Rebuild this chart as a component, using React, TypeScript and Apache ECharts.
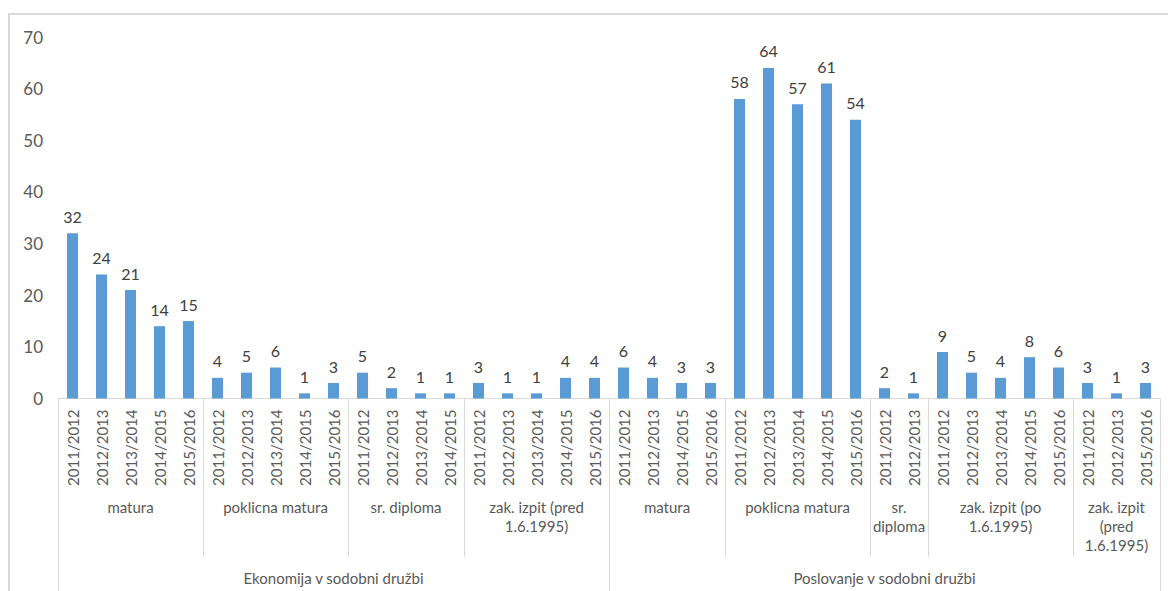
import React, { useEffect, useRef } from "react";
import * as echarts from "echarts";

const programNames = ["Ekonomija v sodobni družbi", "Poslovanje v sodobni družbi"];
const groupNames = [
  "matura",
  "poklicna matura",
  "sr. diploma",
  "zak. izpit (pred\n1.6.1995)",
  "matura",
  "poklicna matura",
  "sr.\ndiploma",
  "zak. izpit (po\n1.6.1995)",
  "zak. izpit\n(pred\n1.6.1995)",
];
const groupProgram = [0, 0, 0, 0, 1, 1, 1, 1, 1];
const groupYears = [
  ["2011/2012", "2012/2013", "2013/2014", "2014/2015", "2015/2016"],
  ["2011/2012", "2012/2013", "2013/2014", "2014/2015", "2015/2016"],
  ["2011/2012", "2012/2013", "2013/2014", "2014/2015"],
  ["2011/2012", "2012/2013", "2013/2014", "2014/2015", "2015/2016"],
  ["2011/2012", "2012/2013", "2014/2015", "2015/2016"],
  ["2011/2012", "2012/2013", "2013/2014", "2014/2015", "2015/2016"],
  ["2011/2012", "2012/2013"],
  ["2011/2012", "2012/2013", "2013/2014", "2014/2015", "2015/2016"],
  ["2011/2012", "2012/2013", "2015/2016"],
];
const groupValues = [
  [32, 24, 21, 14, 15],
  [4, 5, 6, 1, 3],
  [5, 2, 1, 1],
  [3, 1, 1, 4, 4],
  [6, 4, 3, 3],
  [58, 64, 57, 61, 54],
  [2, 1],
  [9, 5, 4, 8, 6],
  [3, 1, 3],
];
const yMin = 0;
const yMax = 70;
const yInterval = 10;

const FONT = "Lato";
const AXIS_COLOR = "#595959";
const LINE_COLOR = "#D9D9D9";

export default function App() {
  const ref = useRef<HTMLDivElement>(null);

  useEffect(() => {
    if (!ref.current) return;
    const chart = echarts.init(ref.current, undefined, { renderer: "svg" });

    const categories: string[] = [];
    const values: number[] = [];
    const groupStart: number[] = [];
    groupYears.forEach((years, g) => {
      groupStart.push(categories.length);
      years.forEach((y, k) => {
        categories.push(g + "|" + y);
        values.push(groupValues[g][k]);
      });
    });
    const n = categories.length;

    chart.setOption({
      animation: false,
      grid: { left: 58, right: 8, top: 37, bottom: 192.5, containLabel: false },
      xAxis: {
        type: "category",
        data: categories,
        axisLine: { show: true, lineStyle: { color: LINE_COLOR, width: 1 } },
        axisTick: { show: false },
        axisLabel: {
          interval: 0,
          rotate: 90,
          margin: 11,
          color: AXIS_COLOR,
          fontFamily: FONT,
          fontSize: 15,
          formatter: (v: string) => v.split("|")[1],
        },
        splitLine: { show: false },
      },
      yAxis: {
        type: "value",
        min: yMin,
        max: yMax,
        interval: yInterval,
        axisLine: { show: false },
        axisTick: { show: false },
        splitLine: { show: false },
        axisLabel: { color: AXIS_COLOR, fontFamily: FONT, fontSize: 17, margin: 15 },
      },
      series: [
        {
          type: "bar",
          data: values,
          barWidth: 11,
          itemStyle: { color: "#5B9BD5" },
          label: {
            show: true,
            position: "top",
            distance: 9,
            color: "#404040",
            fontFamily: FONT,
            fontSize: 16,
          },
        },
      ],
    });

    const cx = (i: number) => chart.convertToPixel({ xAxisIndex: 0 }, i) as number;
    const bw = (cx(n - 1) - cx(0)) / (n - 1);
    const boundary = (i: number) => cx(0) + (i - 0.5) * bw;
    const zeroY = chart.convertToPixel({ yAxisIndex: 0 }, 0) as number;

    const elements: any[] = [
      {
        type: "rect",
        shape: { x: 9, y: 14, width: 1400, height: 800 },
        style: { fill: "none", stroke: LINE_COLOR, lineWidth: 2 },
        silent: true,
        z: -1,
      },
    ];

    const progBounds: number[] = [];
    groupProgram.forEach((p, g) => {
      if (g === 0 || groupProgram[g - 1] !== p) progBounds.push(groupStart[g]);
    });
    progBounds.push(n);
    progBounds.forEach((b) => {
      const x = Math.round(boundary(b)) + 0.5;
      elements.push({
        type: "line",
        shape: { x1: x, y1: zeroY, x2: x, y2: zeroY + 200 },
        style: { stroke: LINE_COLOR, lineWidth: 1 },
        silent: true,
      });
    });
    groupStart.forEach((s) => {
      if (progBounds.indexOf(s) >= 0) return;
      const x = Math.round(boundary(s)) + 0.5;
      elements.push({
        type: "line",
        shape: { x1: x, y1: zeroY, x2: x, y2: zeroY + 158 },
        style: { stroke: LINE_COLOR, lineWidth: 1 },
        silent: true,
      });
    });
    groupNames.forEach((name, g) => {
      const s = groupStart[g];
      const e = s + groupYears[g].length;
      const mid = (boundary(s) + boundary(e)) / 2;
      elements.push({
        type: "text",
        x: mid,
        y: zeroY + 108.5 - 9.5,
        style: {
          text: name,
          fill: AXIS_COLOR,
          font: `15px "${FONT}"`,
          align: "center",
          verticalAlign: "top",
          lineHeight: 19,
        },
        silent: true,
      });
    });
    programNames.forEach((name, p) => {
      const s = progBounds[p];
      const e = progBounds[p + 1];
      const mid = (boundary(s) + boundary(e)) / 2;
      elements.push({
        type: "text",
        x: mid,
        y: zeroY + 179,
        style: {
          text: name,
          fill: AXIS_COLOR,
          font: `15px "${FONT}"`,
          align: "center",
          verticalAlign: "middle",
        },
        silent: true,
      });
    });

    chart.setOption({ graphic: elements });

    return () => chart.dispose();
  }, []);

  return (
    <div
      ref={ref}
      style={{ position: "fixed", left: 0, top: 0, width: 1168, height: 591, background: "#fff" }}
    />
  );
}
